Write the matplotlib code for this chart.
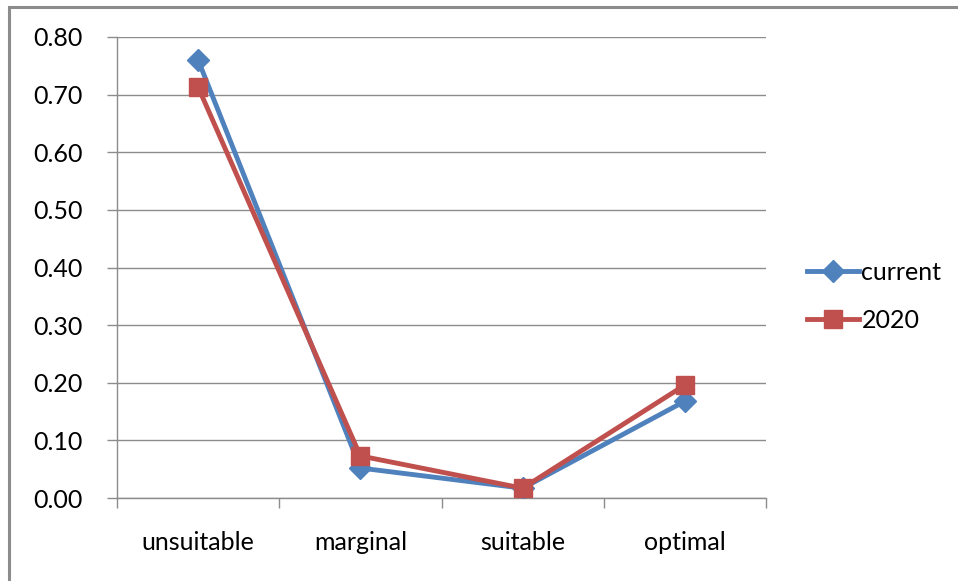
import numpy as np
import matplotlib.pyplot as plt
from matplotlib.patches import Rectangle

plt.rcParams['font.family'] = ['Lato', 'DejaVu Sans']

categories = ['unsuitable', 'marginal', 'suitable', 'optimal']
current = [0.760, 0.052, 0.017, 0.168]
y2020 = [0.713, 0.073, 0.017, 0.196]

W, H = 958, 581
fig = plt.figure(figsize=(W / 100, H / 100), dpi=100)

# outer chart border (cut off at right and bottom)
fig.patches.append(Rectangle((9 / W, -0.05), 1.1, 1 - 7 / H + 0.05,
                             transform=fig.transFigure, fill=False,
                             edgecolor='#8c8c8c', lw=2.2, zorder=0))

ax = fig.add_axes([117 / W, 1 - 498 / H, (766 - 117) / W, (498 - 37) / H])

x = np.arange(len(categories))
ax.plot(x, current, color='#4F81BD', lw=3.5, marker='D', ms=11,
        label='current', zorder=3)
ax.plot(x, y2020, color='#C0504D', lw=3.5, marker='s', ms=13,
        label='2020', zorder=3)

ax.set_xlim(-0.5, 3.5)
ax.set_ylim(0, 0.8)
ax.set_yticks(np.arange(0, 0.81, 0.1))
ax.set_yticklabels(['%.2f' % v for v in np.arange(0, 0.81, 0.1)], fontsize=18)
ax.yaxis.grid(True, color='#8c8c8c', lw=1)
ax.set_axisbelow(True)

ax.set_xticks(np.arange(-0.5, 3.6, 1))
ax.set_xticklabels([])
ax.set_xticks(x, minor=True)
ax.set_xticklabels(categories, minor=True, fontsize=18)
ax.tick_params(axis='x', which='minor', length=0, pad=24)
ax.tick_params(axis='x', which='major', length=7, color='#8c8c8c', width=1)
ax.tick_params(axis='y', length=7, color='#8c8c8c', width=1, pad=18)

for s in ['top', 'right']:
    ax.spines[s].set_visible(False)
for s in ['left', 'bottom']:
    ax.spines[s].set_color('#8c8c8c')
    ax.spines[s].set_linewidth(1)

ax.legend(loc='center left', bbox_to_anchor=(784 / W, 1 - 296 / H),
          bbox_transform=fig.transFigure, frameon=False, fontsize=18,
          handlelength=2.1, handletextpad=0.1, labelspacing=1.0)

fig.savefig('out.png', dpi=100)
